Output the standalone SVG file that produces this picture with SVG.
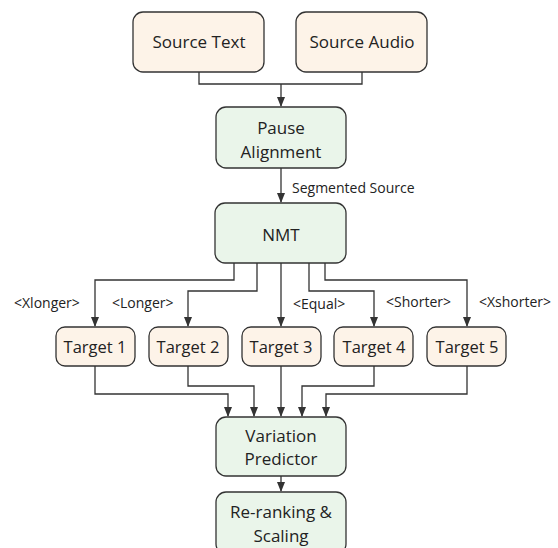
<svg xmlns="http://www.w3.org/2000/svg" width="558" height="548" viewBox="0 0 558 548">
<defs>
<marker id="ah" markerWidth="10" markerHeight="10" refX="9" refY="5" orient="auto" markerUnits="userSpaceOnUse">
<path d="M0,1 L10,5 L0,9 Z" fill="#333"/>
</marker>
<style>
.src{fill:#fdf3e8;stroke:#333;stroke-width:1.3}
.mod{fill:#eaf5ea;stroke:#333;stroke-width:1.3}
.t{font-family:"Open Sans","Noto Sans",sans-serif;font-size:17px;fill:#222;text-anchor:middle}
.tt{font-family:"Open Sans","Noto Sans",sans-serif;font-size:16.5px;fill:#222;text-anchor:middle}
.l{font-family:"Open Sans","Noto Sans",sans-serif;font-size:14px;fill:#222}
.c{fill:none;stroke:#333;stroke-width:1.3}
</style>
</defs>
<rect width="558" height="548" fill="#fff"/>
<g id="connectors">
<path class="c" d="M199,72 V84 H362 V72"/>
<path class="c" d="M281,84 V106" marker-end="url(#ah)"/>
<path class="c" d="M281,168 V202" marker-end="url(#ah)"/>
<path class="c" d="M234,263 V280 H95 V326" marker-end="url(#ah)"/>
<path class="c" d="M257,263 V291 H188 V326" marker-end="url(#ah)"/>
<path class="c" d="M281,263 V326" marker-end="url(#ah)"/>
<path class="c" d="M309,263 V291 H374 V326" marker-end="url(#ah)"/>
<path class="c" d="M325,263 V280 H467 V326" marker-end="url(#ah)"/>
<path class="c" d="M95,366 V394 H228 V416" marker-end="url(#ah)"/>
<path class="c" d="M188,366 V386 H254 V416" marker-end="url(#ah)"/>
<path class="c" d="M281,366 V416" marker-end="url(#ah)"/>
<path class="c" d="M374,366 V386 H302 V416" marker-end="url(#ah)"/>
<path class="c" d="M467,366 V394 H326 V416" marker-end="url(#ah)"/>
<path class="c" d="M281,476 V491" marker-end="url(#ah)"/>
<text class="l" x="292" y="193">Segmented Source</text>
<text class="l" x="14" y="308">&lt;Xlonger&gt;</text>
<text class="l" x="112" y="308">&lt;Longer&gt;</text>
<text class="l" x="293" y="309">&lt;Equal&gt;</text>
<text class="l" x="386" y="307">&lt;Shorter&gt;</text>
<text class="l" x="479" y="307">&lt;Xshorter&gt;</text>
</g>
<g id="source-text"><rect class="src" x="133" y="12" width="131" height="60" rx="10"/><text class="t" x="199" y="48">Source Text</text></g>
<g id="source-audio"><rect class="src" x="296" y="12" width="131" height="60" rx="10"/><text class="t" x="362" y="48">Source Audio</text></g>
<g id="pause-alignment"><rect class="mod" x="216" y="107" width="130" height="61" rx="10"/><text class="t" x="281" y="134">Pause</text><text class="t" x="281" y="158">Alignment</text></g>
<g id="nmt"><rect class="mod" x="215" y="203" width="131" height="60" rx="10"/><text class="t" x="281" y="241">NMT</text></g>
<g id="target1"><rect class="src" x="56" y="327" width="79" height="39" rx="9"/><text class="tt" x="95" y="353">Target 1</text></g>
<g id="target2"><rect class="src" x="149" y="327" width="79" height="39" rx="9"/><text class="tt" x="188" y="353">Target 2</text></g>
<g id="target3"><rect class="src" x="242" y="327" width="79" height="39" rx="9"/><text class="tt" x="281" y="353">Target 3</text></g>
<g id="target4"><rect class="src" x="334" y="327" width="79" height="39" rx="9"/><text class="tt" x="374" y="353">Target 4</text></g>
<g id="target5"><rect class="src" x="427" y="327" width="79" height="39" rx="9"/><text class="tt" x="467" y="353">Target 5</text></g>
<g id="variation-predictor"><rect class="mod" x="216" y="417" width="130" height="59" rx="10"/><text class="t" x="281" y="442">Variation</text><text class="t" x="281" y="465">Predictor</text></g>
<g id="reranking"><rect class="mod" x="216" y="492" width="130" height="62" rx="10"/><text class="t" x="281" y="518">Re-ranking &amp;</text><text class="t" x="281" y="542">Scaling</text></g>
</svg>
